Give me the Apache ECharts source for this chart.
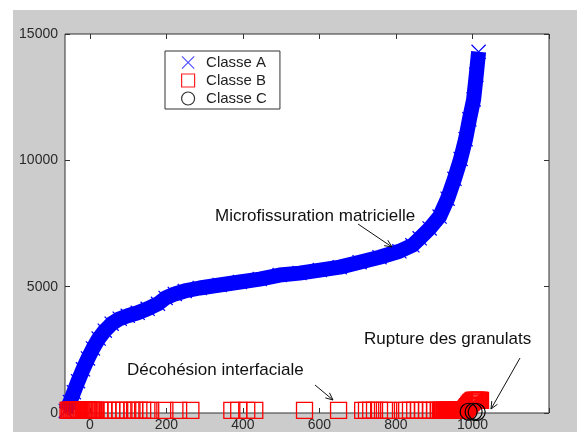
<!DOCTYPE html>
<html>
<head>
<meta charset="utf-8">
<script src="https://cdn.jsdelivr.net/npm/echarts@6/dist/echarts.min.js"></script>
<style>
  html, body { margin: 0; padding: 0; background: #fff; }
  #chart { width: 577px; height: 432px; }
</style>
</head>
<body>
<div id="chart"></div>
<script>
// Classe A : courbe bleue (croix)
const classAX = [-63, -52, -42, -31, -18, -5, 8, 23, 39, 57, 78, 99, 125, 151, 178, 198, 222, 248,
  287, 339, 392, 444, 496, 548, 601, 653, 705, 757, 809, 843, 862, 888, 914, 935, 953, 969,
  982, 992, 1003, 1010, 1016];
const classAY = [80, 432, 825, 1257, 1728, 2160, 2553, 2945, 3259, 3534, 3731, 3848, 3966, 4123,
  4320, 4555, 4712, 4830, 4948, 5066, 5184, 5301, 5459, 5537, 5655, 5773, 5969, 6165, 6401,
  6637, 6912, 7304, 7775, 8482, 9268, 10053, 10839, 11624, 12409, 13391, 14294];

// Classe B : carrés rouges
const classBX = [-57, -54, -52, -49, -47, -44, -42, -39, -37, -34, -31, -29, -26, -23, -21, -18,
  -16, -13, -10, -8, -5, -3, 0, 3, 5, 8, 10, 13, 16,
  26, 37, 47, 57, 68, 78, 89, 99, 110, 117, 128, 138, 149, 159,
  196, 232, 264,
  371, 389, 410, 431,
  561, 650,
  713, 723, 734, 744, 757, 770, 781, 817, 828, 838, 849, 859, 869, 880, 890, 901, 911,
  916, 919, 922, 925, 927, 930, 932, 935, 937, 940, 943, 945, 948, 950, 953, 956, 958, 961,
  963, 966, 969, 971, 974, 976, 979,
  982, 985, 987, 990, 992, 995, 997, 1000, 1003, 1005, 1008, 1010, 1013, 1016, 1018, 1021];
const classBY = [100, 100, 100, 100, 100, 100, 100, 100, 100, 100, 100, 100, 100, 100, 100, 100,
  100, 100, 100, 100, 100, 100, 100, 100, 100, 100, 100, 100, 100,
  100, 100, 100, 100, 100, 100, 100, 100, 100, 100, 100, 100, 100, 100,
  100, 100, 100,
  100, 100, 100, 100,
  100, 100,
  100, 100, 100, 100, 100, 100, 100, 100, 100, 100, 100, 100, 100, 100, 100, 100, 100,
  100, 100, 100, 100, 100, 100, 100, 100, 100, 100, 100, 100, 100, 100, 100, 100, 100, 100,
  100, 100, 100, 100, 100, 100, 100,
  150, 200, 250, 300, 350, 400, 430, 470, 500, 500, 500, 500, 500, 500, 500, 500];

// Classe C : cercles noirs
const classCX = [990, 1003, 1011];
const classCY = [50, 50, 40];

const xTicks = [0, 200, 400, 600, 800, 1000, 1200];
const xLabels = [0, 200, 400, 600, 800, 1000];
const yTicks = [0, 5000, 10000, 15000];

const zip = (xs, ys) => xs.map((x, i) => [x, ys[i]]);

const crossPath = 'path://M0,0.7L0.7,0L6,5.3L11.3,0L12,0.7L6.7,6L12,11.3L11.3,12L6,6.7L0.7,12L0,11.3L5.3,6Z';
const squarePath = 'path://M0,0L12,0L12,12L0,12Z';
const font = '"Liberation Sans", Arial, sans-serif';

function arrow(x1, y1, x2, y2) {
  const a = Math.atan2(y2 - y1, x2 - x1), L = 8, s = 0.42;
  return [
    { type: 'line', z: 20, shape: { x1, y1, x2, y2 }, style: { stroke: '#111', lineWidth: 1 } },
    { type: 'polyline', z: 20, shape: { points: [
        [x2 - L * Math.cos(a - s), y2 - L * Math.sin(a - s)], [x2, y2],
        [x2 - L * Math.cos(a + s), y2 - L * Math.sin(a + s)]] },
      style: { stroke: '#111', lineWidth: 1, fill: null } }
  ];
}

function label(text, x, y) {
  return { type: 'text', z: 20, x, y,
    style: { text, font: '17px ' + font, fill: '#111', verticalAlign: 'middle' } };
}

const chart = echarts.init(document.getElementById('chart'));

const tickStyle = { inside: true, length: 5, lineStyle: { color: '#333' } };

const xCommon = {
  type: 'value',
  min: -65,
  max: 1200,
  splitLine: { show: false },
  axisLine: { show: false, onZero: false }
};
const yCommon = {
  type: 'value',
  min: 0,
  max: 15000,
  splitLine: { show: false },
  axisLine: { show: false, onZero: false }
};

chart.setOption({
  animation: false,
  backgroundColor: '#fff',
  grid: { left: 65, right: 28, top: 34, bottom: 16, show: true, backgroundColor: '#fff',
    borderColor: '#333', borderWidth: 1 },
  legend: {
    orient: 'vertical', left: 165, top: 51,
    padding: [4, 13, 3, 16], itemGap: 3, itemWidth: 26, itemHeight: 13,
    backgroundColor: '#fff', borderColor: '#333', borderWidth: 1,
    textStyle: { fontSize: 15, color: '#222', fontFamily: font, lineHeight: 15 },
    data: [
      { name: 'Classe A', icon: crossPath, itemStyle: { color: '#4a4aff' } },
      { name: 'Classe B', icon: squarePath, itemStyle: { color: 'rgba(0,0,0,0)', borderColor: '#ff2020', borderWidth: 1.2 } },
      { name: 'Classe C', icon: 'circle', itemStyle: { color: 'rgba(0,0,0,0)', borderColor: '#333', borderWidth: 1.2 } }
    ]
  },
  xAxis: [
    Object.assign({}, xCommon, {
      position: 'bottom',
      axisTick: Object.assign({ customValues: xTicks }, tickStyle),
      axisLabel: { customValues: xLabels, margin: 5, fontSize: 14, color: '#2a2a2a', fontFamily: font,
        formatter: v => String(v) }
    }),
    Object.assign({}, xCommon, {
      position: 'top',
      axisTick: Object.assign({ customValues: xTicks }, tickStyle),
      axisLabel: { show: false }
    })
  ],
  yAxis: [
    Object.assign({}, yCommon, {
      position: 'left',
      axisTick: Object.assign({ customValues: yTicks }, tickStyle),
      axisLabel: { customValues: yTicks, margin: 7, fontSize: 14, color: '#2a2a2a', fontFamily: font,
        formatter: v => String(v) }
    }),
    Object.assign({}, yCommon, {
      position: 'right',
      axisTick: Object.assign({ customValues: yTicks }, tickStyle),
      axisLabel: { show: false }
    })
  ],
  series: [
    {
      name: 'Classe A', type: 'line', clip: false, z: 3,
      data: zip(classAX, classAY),
      symbol: crossPath, symbolSize: 15, showSymbol: true,
      itemStyle: { color: '#0000ff' },
      lineStyle: { color: '#0000ff', width: 15, join: 'round', cap: 'butt' }
    },
    {
      name: 'Classe B', type: 'scatter', clip: false, z: 4,
      data: zip(classBX, classBY),
      symbol: 'rect', symbolSize: 16,
      itemStyle: { color: 'rgba(0,0,0,0)', borderColor: '#ff0000', borderWidth: 1.3, opacity: 1 }
    },
    {
      name: 'Classe C', type: 'scatter', clip: false, z: 5,
      data: zip(classCX, classCY),
      symbol: 'circle', symbolSize: 17,
      itemStyle: { color: 'rgba(0,0,0,0)', borderColor: '#000', borderWidth: 1.2, opacity: 1 }
    }
  ],
  graphic: [
    { type: 'rect', z: -10, silent: true, shape: { x: 13, y: 10, width: 564, height: 422 },
      style: { fill: '#cccccc' } },
    label('Microfissuration matricielle', 215, 216),
    label('Rupture des granulats', 364, 339),
    label('Décohésion interfaciale', 127, 370)
  ].concat(arrow(358, 224, 392, 247), arrow(520, 358, 491, 409), arrow(315, 385, 333, 400))
});
</script>
</body>
</html>
